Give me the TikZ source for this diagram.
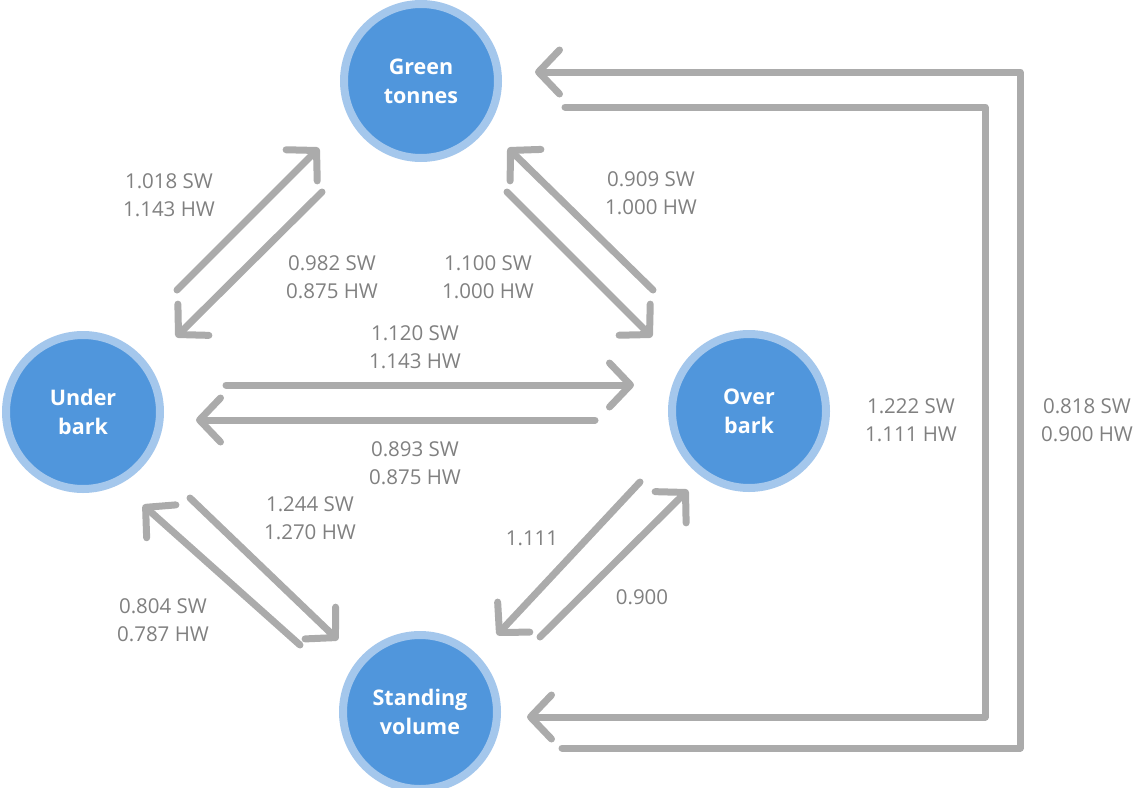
\documentclass[tikz,border=0pt]{standalone}
\usepackage{fontspec}
\setmainfont{Open Sans}
\usetikzlibrary{arrows.meta}
\definecolor{nodeblue}{HTML}{5096DC}
\definecolor{ringblue}{HTML}{A4C7EC}
\definecolor{arrowgray}{HTML}{ABABAB}
\definecolor{labelgray}{HTML}{808080}
\begin{document}
\begin{tikzpicture}[x=1pt,y=-1pt,
  unit/.style={circle, fill=nodeblue, draw=ringblue, line width=8pt, minimum size=154pt, inner sep=0pt, text=white, align=center, font=\fontsize{21.5}{29}\selectfont\bfseries},
  flow/.style={draw=arrowgray, line width=7pt, line cap=round, line join=round, -{Straight Barb[length=21pt,width=44pt,round]}},
  lbl/.style={text=labelgray, align=center, font=\fontsize{20.5}{28}\selectfont}]
\useasboundingbox (0,0) rectangle (1140,787);
\node[unit] (gt) at (421,81) {Green\\tonnes};
\node[unit] (ub) at (83,412) {Under\\bark};
\node[unit] (ob) at (749,411) {Over\\bark};
\node[unit] (sv) at (420,712) {Standing\\volume};

% coordinates
\coordinate (gu1s) at (177,290); \coordinate (gu1e) at (319,148);
\coordinate (gu2s) at (322,192); \coordinate (gu2e) at (176,337);
\coordinate (go1s) at (653,290); \coordinate (go1e) at (508,148);
\coordinate (go2s) at (507,192); \coordinate (go2e) at (652,337);
\coordinate (uo1s) at (226,385); \coordinate (uo1e) at (634,385);
\coordinate (uo2s) at (595,420); \coordinate (uo2e) at (196,420);
\coordinate (us1s) at (300,645); \coordinate (us1e) at (143,505);
\coordinate (us2s) at (190,498); \coordinate (us2e) at (338,640);
\coordinate (os1s) at (640,482); \coordinate (os1e) at (497,635);
\coordinate (os2s) at (540,637); \coordinate (os2e) at (688,490);
\coordinate (lo1) at (562,748); \coordinate (lo2) at (1020,748);
\coordinate (lo3) at (1020,72);  \coordinate (lo4) at (535,72);
\coordinate (li1) at (565,107); \coordinate (li2) at (985,107);
\coordinate (li3) at (985,717);  \coordinate (li4) at (527,717);

\draw[flow] (gu1s) -- (gu1e);
\draw[flow] (gu2s) -- (gu2e);
\draw[flow] (go1s) -- (go1e);
\draw[flow] (go2s) -- (go2e);
\draw[flow] (uo1s) -- (uo1e);
\draw[flow] (uo2s) -- (uo2e);
\draw[flow] (us1s) -- (us1e);
\draw[flow] (us2s) -- (us2e);
\draw[flow] (os1s) -- (os1e);
\draw[flow] (os2s) -- (os2e);
\draw[flow] (lo1) -- (lo2) -- (lo3) -- (lo4);
\draw[flow] (li1) -- (li2) -- (li3) -- (li4);

\node[lbl] (l1) at (169,195) {1.018 SW\\1.143 HW};
\node[lbl] (l2) at (332,277) {0.982 SW\\0.875 HW};
\node[lbl] (l3) at (651,193) {0.909 SW\\1.000 HW};
\node[lbl] (l4) at (488,277) {1.100 SW\\1.000 HW};
\node[lbl] (l5) at (415,347) {1.120 SW\\1.143 HW};
\node[lbl] (l6) at (415,463) {0.893 SW\\0.875 HW};
\node[lbl] (l7) at (310,518) {1.244 SW\\1.270 HW};
\node[lbl] (l8) at (163,620) {0.804 SW\\0.787 HW};
\node[lbl] (l9) at (532,538) {1.111};
\node[lbl] (l10) at (642,597) {0.900};
\node[lbl] (l11) at (911,420) {1.222 SW\\1.111 HW};
\node[lbl] (l12) at (1087,420) {0.818 SW\\0.900 HW};
\end{tikzpicture}
\end{document}
